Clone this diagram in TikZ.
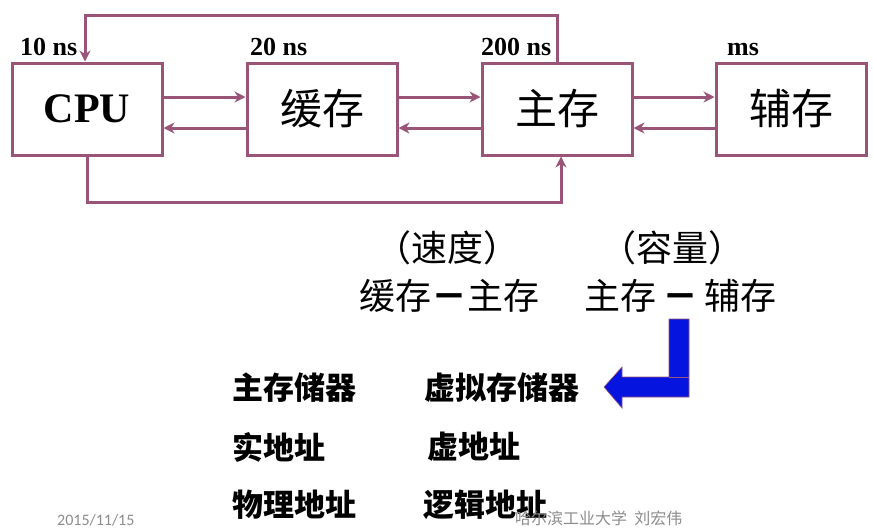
\documentclass[tikz,border=0pt]{standalone}
\usepackage{fontspec}
\setmainfont{Liberation Serif}
\newfontfamily\cjk{Noto Sans CJK SC}
\newfontfamily\footfont{Carlito}
\usetikzlibrary{arrows.meta,positioning}
\definecolor{linepurple}{RGB}{153,84,120}
\definecolor{arrowblue}{RGB}{5,20,222}
\definecolor{footgray}{RGB}{140,140,140}

\begin{document}
\begin{tikzpicture}[x=1pt, y=-1pt,
  box/.style={rectangle, draw=linepurple, line width=3pt, minimum width=150pt, minimum height=92pt, inner sep=0pt},
  lbl/.style={anchor=base west, inner sep=0pt, font=\fontsize{26}{26}\selectfont\bfseries},
  arr/.style={draw=linepurple, line width=3pt, -{Stealth[length=11pt,width=11pt]}},
  big/.style={inner sep=0pt, font=\cjk\fontsize{36}{36}\selectfont},
  addr/.style={anchor=west, inner sep=0pt, font=\cjk\bfseries\fontsize{31}{31}\selectfont},
  foot/.style={anchor=base west, inner sep=0pt, text=footgray}
]
\useasboundingbox (0,0) rectangle (873,528);

% memory hierarchy
\node[box, font=\fontsize{42}{42}\selectfont\bfseries] (cpu) at (87,109) {CPU};
\node[box, font=\cjk\fontsize{42}{42}\selectfont] (cache) at (322,109) {缓存};
\node[box, font=\cjk\fontsize{42}{42}\selectfont] (main) at (557,109) {主存};
\node[box, font=\cjk\fontsize{42}{42}\selectfont] (aux) at (791,109) {辅存};

\node[lbl] (tcpu) at (20,55) {10 ns};
\node[lbl] (tcache) at (250,55) {20 ns};
\node[lbl] (tmain) at (481,55) {200 ns};
\node[lbl] (taux) at (727,55) {ms};

\draw[arr] ([yshift=12pt]cpu.east) -- ([yshift=12pt]cache.west);
\draw[arr] ([yshift=-19pt]cache.west) -- ([yshift=-19pt]cpu.east);
\draw[arr] ([yshift=12pt]cache.east) -- ([yshift=12pt]main.west);
\draw[arr] ([yshift=-19pt]main.west) -- ([yshift=-19pt]cache.east);
\draw[arr] ([yshift=12pt]main.east) -- ([yshift=12pt]aux.west);
\draw[arr] ([yshift=-19pt]aux.west) -- ([yshift=-19pt]main.east);

\coordinate (top) at (0,15);
\coordinate (bot) at (0,202);
\draw[arr] (main.north) -- (main.north |- top) -| ([xshift=-2pt]cpu.north);
\draw[arr] (cpu.south) -- (cpu.south |- bot) -| ([xshift=4pt]main.south);

% speed / capacity
\node[big] (speed) at (447,248) {（速度）};
\node[big] (pairA) at (449,296) {缓存{\bfseries －}主存};
\node[big] (capa) at (672,248) {（容量）};
\node[big] (pairB) at (680,296) {主存\,{\bfseries －}\,辅存};

% bent arrow
\coordinate (b1) at (669,319);
\coordinate (b2) at (689,319);
\coordinate (b3) at (689,397);
\coordinate (b4) at (622,397);
\coordinate (b5) at (622,408);
\coordinate (tip) at (604,387);
\coordinate (b6) at (622,367);
\coordinate (b7) at (622,377);
\coordinate (b8) at (669,377);
\filldraw[fill=arrowblue, draw=linepurple, line width=0.6pt]
  (b1) -- (b2) -- (b3) -- (b4) -- (b5) -- (tip) -- (b6) -- (b7) -- (b8) -- cycle;
\draw[linepurple, line width=0.6pt] (b8) -- (b2 |- b8);

% address names
\node[addr] (realmem) at (232,388) {主存储器};
\node[addr] (virtmem) at (424,388) {虚拟存储器};
\node[addr] (realaddr) at (232,447) {实地址};
\node[addr] (virtaddr) at (427,447) {虚地址};
\node[addr] (physaddr) at (232,505) {物理地址};
\node[addr] (logaddr) at (423,505) {逻辑地址};

% footer
\node[foot, font=\footfont\fontsize{16}{16}\selectfont] (date) at (57,525) {2015/11/15};
\node[foot, font=\cjk\fontsize{16}{16}\selectfont] (author) at (515,524) {哈尔滨工业大学\ \ 刘宏伟};
\end{tikzpicture}
\end{document}
